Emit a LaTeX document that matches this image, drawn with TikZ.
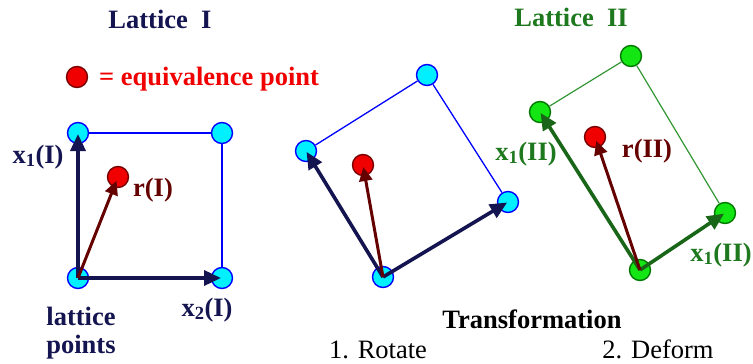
\documentclass[tikz,border=0pt]{standalone}
\usepackage{fontspec}
\setmainfont{Liberation Serif}
\definecolor{navy}{RGB}{20,20,80}
\definecolor{ptcyan}{RGB}{0,240,255}
\definecolor{ptblue}{RGB}{0,0,255}
\definecolor{eqred}{RGB}{240,0,0}
\definecolor{eqborder}{RGB}{120,0,0}
\definecolor{rvecred}{RGB}{100,0,0}
\definecolor{ptgreen}{RGB}{20,230,20}
\definecolor{ptgreenborder}{RGB}{0,120,0}
\definecolor{latgreen}{RGB}{30,120,30}
\definecolor{edgegreen}{RGB}{50,150,50}
\usetikzlibrary{arrows.meta, positioning}

\begin{document}
\begin{tikzpicture}[
    x=1pt, y=-1pt,
    lpt/.style={circle, minimum size=21pt, inner sep=0pt, fill=ptcyan, draw=ptblue, line width=1.4pt},
    gpt/.style={lpt, fill=ptgreen, draw=ptgreenborder},
    eqpt/.style={lpt, fill=eqred, draw=eqborder},
    latedge/.style={ptblue, line width=1.6pt},
    gedge/.style={edgegreen, line width=1.2pt},
    vec/.style={-{Triangle[length=17pt, width=15pt]}, line width=3.6pt, navy, shorten >=1pt},
    gvec/.style={vec, latgreen!85!black},
    rvec/.style={-{Triangle[length=14pt, width=13pt]}, line width=3pt, rvecred, shorten >=4pt},
    txt/.style={font=\fontsize{26.5}{28}\selectfont\bfseries, inner sep=0pt, anchor=base},
  ]
  \useasboundingbox (0,0) rectangle (753,364);

  % titles and legend
  \node[txt, navy] (title1) at (160,28) {Lattice\ \ I};
  \node[txt, latgreen] (title2) at (571,27) {Lattice\ \ II};
  \node[eqpt] (legdot) at (77,77) {};
  \node[txt, eqred, anchor=base west] (legtxt) at (99,85) {= equivalence point};

  % lattice I
  \node[lpt] (a1) at (78,278) {};
  \node[lpt] (a2) at (78,133) {};
  \node[lpt] (a3) at (222,133) {};
  \node[lpt] (a4) at (222,278) {};
  \node[eqpt] (r1) at (118,177) {};
  \draw[latedge] (a2) -- (a3) -- (a4);
  \draw[vec] (a1.center) -- (a2.center);
  \draw[vec] (a1.center) -- (a4.center);
  \draw[rvec] (a1.center) -- (r1.center);
  \node[txt, navy] (x1a) at (38,163) {x\textsubscript{1}(I)};
  \node[txt, rvecred] (ra) at (153,196) {r(I)};
  \node[txt, navy] (x2a) at (207,316) {x\textsubscript{2}(I)};
  \node[txt, navy] (lat) at (81,325) {lattice};
  \node[txt, navy] (pts) at (81,353) {points};

  % rotated lattice
  \node[lpt] (b1) at (383,277) {};
  \node[lpt] (b2) at (306,151) {};
  \node[lpt] (b3) at (427,75) {};
  \node[lpt] (b4) at (508,202) {};
  \node[eqpt] (r2) at (363,165) {};
  \draw[latedge, line width=1.3pt] (b2) -- (b3) -- (b4);
  \draw[vec] (b1.center) -- (b2.center);
  \draw[vec] (b1.center) -- (b4.center);
  \draw[rvec, shorten >=2pt] (b1.center) -- (r2.center);

  % lattice II
  \node[gpt] (c1) at (640,270) {};
  \node[gpt] (c2) at (540,112) {};
  \node[gpt] (c3) at (631,56) {};
  \node[gpt] (c4) at (725,213) {};
  \node[eqpt] (r3) at (595,137) {};
  \draw[gedge] (c2) -- (c3) -- (c4);
  \draw[gvec] (c1.center) -- (c2.center);
  \draw[gvec] (c1.center) -- (c4.center);
  \draw[rvec] (c1.center) -- (r3.center);
  \node[txt, latgreen] (x1b) at (526,160) {x\textsubscript{1}(II)};
  \node[txt, rvecred] (rb) at (647,157) {r(II)};
  \node[txt, latgreen] (x1c) at (721,261) {x\textsubscript{1}(II)};

  % transformation steps
  \node[txt] (trans) at (532,328) {Transformation};
  \node[txt, font=\fontsize{26.5}{28}\selectfont] (rot) at (378,358) {1. Rotate};
  \node[txt, font=\fontsize{26.5}{28}\selectfont] (def) at (658,358) {2. Deform};
\end{tikzpicture}
\end{document}
